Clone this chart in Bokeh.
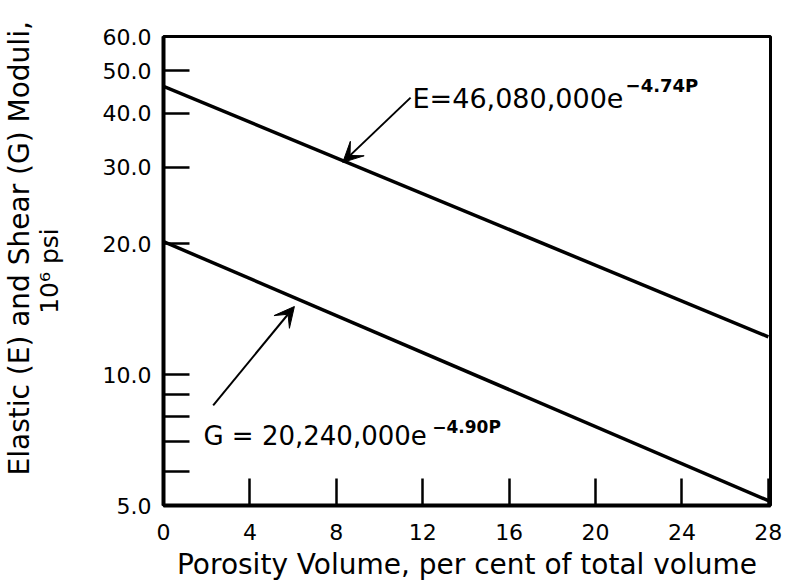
from bokeh.plotting import figure
from bokeh.models import Range1d, FixedTicker, Label, Arrow, VeeHead, Title
from bokeh.embed import file_html
from bokeh.resources import INLINE

# Porosity (per cent of total volume) at the two ends of each fitted line
porosity = [0, 28]
# Moduli in units of 10^6 psi
elastic_modulus = [46.08, 12.22]   # E = 46,080,000 e^(-4.74P)
shear_modulus = [20.24, 5.13]      # G = 20,240,000 e^(-4.90P)

x_ticks = [0, 4, 8, 12, 16, 20, 24, 28]
y_ticks = [5, 6, 7, 8, 9, 10, 20, 30, 40, 50, 60]
y_tick_labels = ["5.0", "", "", "", "", "10.0", "20.0", "30.0", "40.0", "50.0", "60.0"]

FONT = "DejaVu Sans"

p = figure(
    width=787, height=587,
    y_axis_type="log",
    x_range=Range1d(0, 28.1), y_range=Range1d(5, 60),
    output_backend="svg", toolbar_location=None,
    min_border_left=163, min_border_right=17,
    min_border_top=36, min_border_bottom=82,
)
p.grid.visible = False
p.outline_line_color = "black"
p.outline_line_width = 3
p.background_fill_color = "white"
p.border_fill_color = "white"

# the two modulus lines (straight on the log scale)
p.line(porosity, elastic_modulus, line_width=3.5, line_color="black")
p.line(porosity, shear_modulus, line_width=3.5, line_color="black")

# x axis: ticks point into the plot
xa = p.xaxis[0]
xa.ticker = FixedTicker(ticks=x_ticks)
xa.major_tick_in = 27
xa.major_tick_out = 0
xa.minor_tick_line_color = None
xa.axis_line_width = 4
xa.major_tick_line_width = 2.5
xa.major_label_text_font = FONT
xa.major_label_text_font_size = "22px"
xa.major_label_text_color = "black"
xa.major_label_standoff = 18
xa.axis_label = "Porosity Volume, per cent of total volume"
xa.axis_label_text_font = FONT
xa.axis_label_text_font_size = "28px"
xa.axis_label_text_font_style = "normal"
xa.axis_label_text_color = "black"
xa.axis_label_standoff = 5

# y axis: log scale, every integer tick marked, only some labelled
ya = p.yaxis[0]
ya.ticker = FixedTicker(ticks=y_ticks)
ya.major_label_overrides = dict(zip(y_ticks, y_tick_labels))
ya.major_tick_in = 26
ya.major_tick_out = 0
ya.minor_tick_line_color = None
ya.axis_line_width = 4
ya.major_tick_line_width = 2.5
ya.major_label_text_font = FONT
ya.major_label_text_font_size = "22px"
ya.major_label_text_color = "black"
ya.major_label_standoff = 12
# second line of the y title (units) is the axis label itself
ya.axis_label = "10\u2076 psi"
ya.axis_label_text_font = FONT
ya.axis_label_text_font_size = "25px"
ya.axis_label_text_font_style = "normal"
ya.axis_label_text_color = "black"
ya.axis_label_standoff = 36

# first line of the y title, outside the units line
p.add_layout(Title(text="Elastic (E) and Shear (G) Moduli,", align="left",
                   offset=30, standoff=-8,
                   text_font=FONT, text_font_size="28px",
                   text_font_style="normal", text_color="black"), "left")

# equation labels with their exponents
p.add_layout(Label(x=11.53, y=43.13, text="E=46,080,000e",
                   text_align="left", text_baseline="alphabetic",
                   text_font=FONT, text_font_size="27px", text_color="black"))
p.add_layout(Label(x=21.39, y=46.3, text="\u22124.74P",
                   text_align="left", text_baseline="alphabetic",
                   text_font=FONT, text_font_size="18px", text_font_style="bold",
                   text_color="black"))
p.add_layout(Label(x=1.85, y=7.245, text="G = 20,240,000e",
                   text_align="left", text_baseline="alphabetic",
                   text_font=FONT, text_font_size="26px", text_color="black"))
p.add_layout(Label(x=12.44, y=7.57, text="\u22124.90P",
                   text_align="left", text_baseline="alphabetic",
                   text_font=FONT, text_font_size="17px", text_font_style="bold",
                   text_color="black"))

# arrows from the equations to their lines
p.add_layout(Arrow(x_start=11.44, y_start=43.4, x_end=8.3, y_end=30.8,
                   line_width=2, line_color="black",
                   end=VeeHead(size=20, fill_color="black", line_color="black")))
p.add_layout(Arrow(x_start=2.3, y_start=8.5, x_end=6.06, y_end=14.35,
                   line_width=2, line_color="black",
                   end=VeeHead(size=20, fill_color="black", line_color="black")))

open("out.html", "w").write(file_html(p, INLINE))
